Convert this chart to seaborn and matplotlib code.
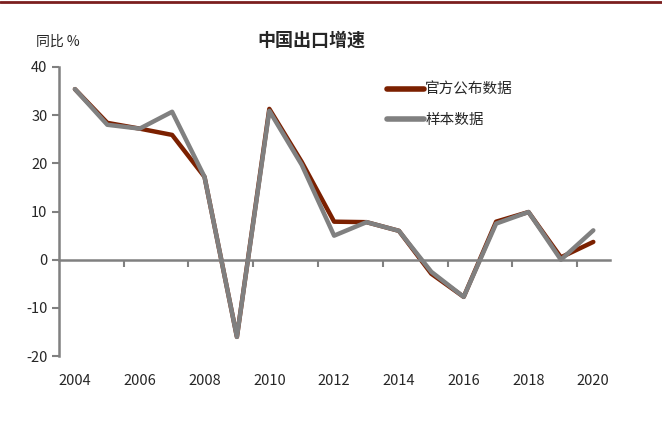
import numpy as np
import pandas as pd
import matplotlib
matplotlib.use('Agg')
import matplotlib.pyplot as plt
import seaborn as sns
from matplotlib.lines import Line2D

# data
years = list(range(2004, 2021))
official = [35.4, 28.4, 27.2, 25.9, 17.2, -16.0, 31.3, 20.3, 7.9, 7.8,
            6.0, -2.9, -7.7, 7.9, 9.9, 0.5, 3.7]
sample = [35.4, 28.0, 27.2, 30.7, 17.2, -16.0, 30.9, 19.7, 5.0, 7.8,
          6.0, -2.5, -7.7, 7.5, 9.9, 0.0, 6.1]
series_names = ['官方公布数据', '样本数据']
colors = ['#7B2000', '#808080']

df = pd.DataFrame({
    'year': years * 2,
    'value': official + sample,
    'series': [series_names[0]] * len(years) + [series_names[1]] * len(years),
})

sns.set_style('white')
plt.rcParams['font.family'] = ['Noto Sans CJK SC', 'DejaVu Sans']
plt.rcParams['axes.unicode_minus'] = False

fig = plt.figure(figsize=(6.62, 4.21), dpi=100)
ax = fig.add_axes([0.0887, 0.154, 0.832, 0.687])

sns.lineplot(data=df, x='year', y='value', hue='series',
             palette=dict(zip(series_names, colors)),
             linewidth=3.2, legend=False, ax=ax)

ax.set_xlim(2003.5, 2020.5)
ax.set_ylim(-20, 40)
ax.set_yticks([-20, -10, 0, 10, 20, 30, 40])
ax.set_xlabel('')
ax.set_ylabel('')

# axis lines
for s in ['top', 'right']:
    ax.spines[s].set_visible(False)
ax.spines['left'].set_color('#808080')
ax.spines['left'].set_linewidth(1.8)
ax.spines['bottom'].set_color('#808080')
ax.spines['bottom'].set_linewidth(1.8)
ax.spines['bottom'].set_position(('data', 0))

ax.set_xticks(np.arange(2005.5, 2020, 2))
ax.set_xticklabels([])
ax.tick_params(axis='x', bottom=True, direction='out', length=5, width=1.5,
               color='#808080')
ax.tick_params(axis='y', left=True, direction='out', length=5, width=1.5,
               color='#808080', labelsize=10.5, pad=3)
ax.set_yticklabels([str(v) for v in [-20, -10, 0, 10, 20, 30, 40]])

# year labels under the plot
sec = ax.secondary_xaxis('bottom')
sec.set_xticks(years[::2])
sec.set_xticklabels([str(y) for y in years[::2]])
sec.tick_params(length=0, labelsize=10.5, pad=13)
sec.spines['bottom'].set_visible(False)

# legend
handles = [Line2D([0], [0], color=c, lw=4) for c in colors]
fig.legend(handles, series_names, loc='upper left',
           bbox_to_anchor=(0.565, 0.835), frameon=False,
           fontsize=10.5, handlelength=2.5, handletextpad=0.1,
           labelspacing=1.15)

fig.text(0.47, 0.905, '中国出口增速', ha='center', va='center',
         fontsize=13, fontweight='bold')
fig.text(0.055, 0.9, '同比 %', ha='left', va='center', fontsize=10)

fig.add_artist(Line2D([0, 1], [0.995, 0.995], transform=fig.transFigure,
                      color='#7B1F1F', linewidth=2))

fig.savefig('out.png', dpi=100)
